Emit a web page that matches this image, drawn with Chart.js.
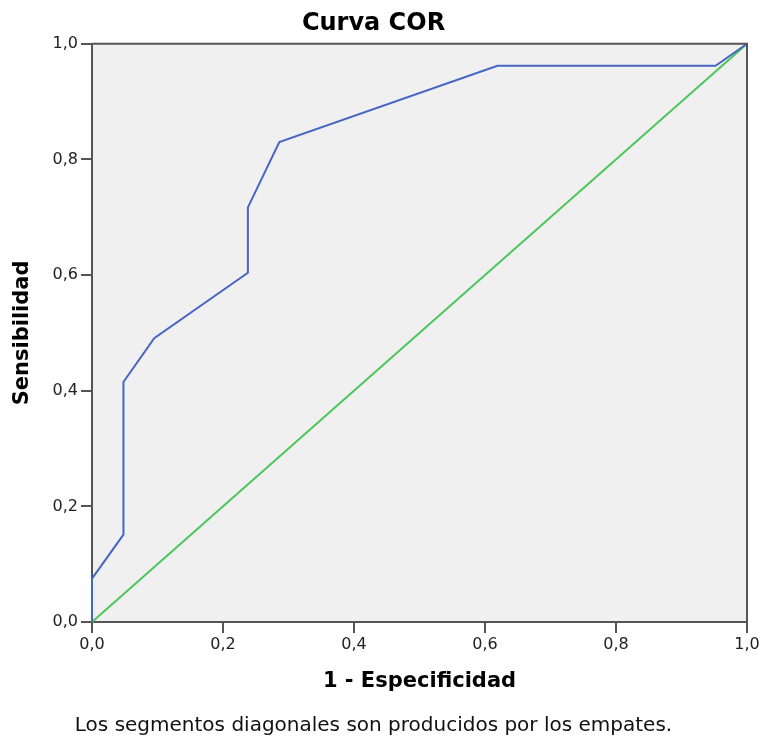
<!DOCTYPE html>
<html>
<head>
<meta charset="utf-8">
<script src="https://cdn.jsdelivr.net/npm/chart.js@4.4.1/dist/chart.umd.min.js"></script>
<style>
    html, body { margin: 0; padding: 0; background: #ffffff; }
    #caja { width: 760px; height: 741px; position: relative; }
</style>
</head>
<body>
<div id="caja"><canvas id="graficaCurva"></canvas></div>
<script>
// datos
const falsosPositivos = [0, 0, 0.048, 0.048, 0.095, 0.238, 0.238, 0.286, 0.619, 0.952, 1];
const sensibilidad = [0, 0.075, 0.151, 0.415, 0.491, 0.604, 0.717, 0.830, 0.962, 0.962, 1];
const referenciaX = [0, 1];
const referenciaY = [0, 1];
const valoresTicks = [0, 0.2, 0.4, 0.6, 0.8, 1.0];
const etiquetasTicks = ['0,0', '0,2', '0,4', '0,6', '0,8', '1,0'];

function etiqueta(valor) {
    const i = valoresTicks.findIndex(v => Math.abs(v - valor) < 1e-6);
    return i >= 0 ? etiquetasTicks[i] : '';
}

function aPuntos(xs, ys) {
    return xs.map((x, i) => ({ x: x, y: ys[i] }));
}

const fondoMarco = {
    id: 'fondoMarco',
    beforeDraw: function(grafica) {
        const { ctx, chartArea } = grafica;
        ctx.save();
        ctx.fillStyle = '#f0f0f0';
        ctx.fillRect(chartArea.left, chartArea.top, chartArea.right - chartArea.left, chartArea.bottom - chartArea.top);
        ctx.restore();
    },
    afterDraw: function(grafica) {
        const { ctx, chartArea } = grafica;
        ctx.save();
        ctx.strokeStyle = '#555555';
        ctx.lineWidth = 2;
        ctx.beginPath();
        ctx.moveTo(chartArea.left, chartArea.top);
        ctx.lineTo(chartArea.right, chartArea.top);
        ctx.lineTo(chartArea.right, chartArea.bottom);
        ctx.stroke();
        ctx.restore();
    }
};

document.addEventListener('DOMContentLoaded', function() {
    const contexto = document.getElementById('graficaCurva');
    new Chart(contexto, {
        type: 'scatter',
        data: {
            datasets: [{
                label: 'Curva',
                data: aPuntos(falsosPositivos, sensibilidad),
                showLine: true,
                borderColor: '#4766c4',
                borderWidth: 2,
                pointRadius: 0,
                tension: 0,
                clip: 4
            },
            {
                label: 'Referencia',
                data: aPuntos(referenciaX, referenciaY),
                showLine: true,
                borderColor: '#4cc65a',
                borderWidth: 2,
                pointRadius: 0,
                clip: 4
            }]
        },
        options: {
            responsive: true,
            maintainAspectRatio: false,
            animation: false,
            layout: {
                padding: { left: 0, right: 13, top: 0, bottom: 0 }
            },
            plugins: {
                legend: { display: false },
                tooltip: { enabled: false },
                title: {
                    display: true,
                    text: 'Curva COR',
                    color: '#000000',
                    font: { family: 'DejaVu Sans', size: 24, weight: 'bold' },
                    padding: { top: 9, bottom: 6 }
                },
                subtitle: {
                    display: true,
                    position: 'bottom',
                    text: 'Los segmentos diagonales son producidos por los empates.',
                    color: '#111111',
                    font: { family: 'DejaVu Sans', size: 20, weight: 'normal' },
                    padding: { top: 4, bottom: 3 }
                }
            },
            scales: {
                x: {
                    type: 'linear',
                    min: 0,
                    max: 1,
                    afterFit: function(escala) {
                        escala.height = 88;
                        escala.paddingLeft = 0;
                        escala.paddingRight = 0;
                    },
                    afterBuildTicks: function(escala) {
                        escala.ticks = valoresTicks.map(v => ({ value: v }));
                    },
                    border: { display: true, color: '#555555', width: 2 },
                    grid: {
                        drawOnChartArea: false,
                        drawTicks: true,
                        tickLength: 11,
                        tickColor: '#555555',
                        lineWidth: 2,
                        tickWidth: 2
                    },
                    ticks: {
                        color: '#222222',
                        padding: 2,
                        maxRotation: 0,
                        font: { family: 'DejaVu Sans', size: 16 },
                        callback: function(valor) { return etiqueta(valor); }
                    },
                    title: {
                        display: true,
                        text: '1 - Especificidad',
                        color: '#000000',
                        font: { family: 'DejaVu Sans', size: 21, weight: 'bold' },
                        padding: { top: 0, bottom: 16 }
                    }
                },
                y: {
                    type: 'linear',
                    min: 0,
                    max: 1,
                    afterFit: function(escala) {
                        escala.width = 92;
                        escala.paddingTop = 0;
                        escala.paddingBottom = 0;
                    },
                    afterBuildTicks: function(escala) {
                        escala.ticks = valoresTicks.map(v => ({ value: v }));
                    },
                    border: { display: true, color: '#555555', width: 2 },
                    grid: {
                        drawOnChartArea: false,
                        drawTicks: true,
                        tickLength: 11,
                        tickColor: '#555555',
                        lineWidth: 2,
                        tickWidth: 2
                    },
                    ticks: {
                        color: '#222222',
                        padding: 3,
                        font: { family: 'DejaVu Sans', size: 16 },
                        callback: function(valor) { return etiqueta(valor); }
                    },
                    title: {
                        display: true,
                        text: 'Sensibilidad',
                        color: '#000000',
                        font: { family: 'DejaVu Sans', size: 21, weight: 'bold' },
                        padding: { top: 10, bottom: 0 }
                    }
                }
            }
        },
        plugins: [fondoMarco]
    });
});
</script>
</body>
</html>
